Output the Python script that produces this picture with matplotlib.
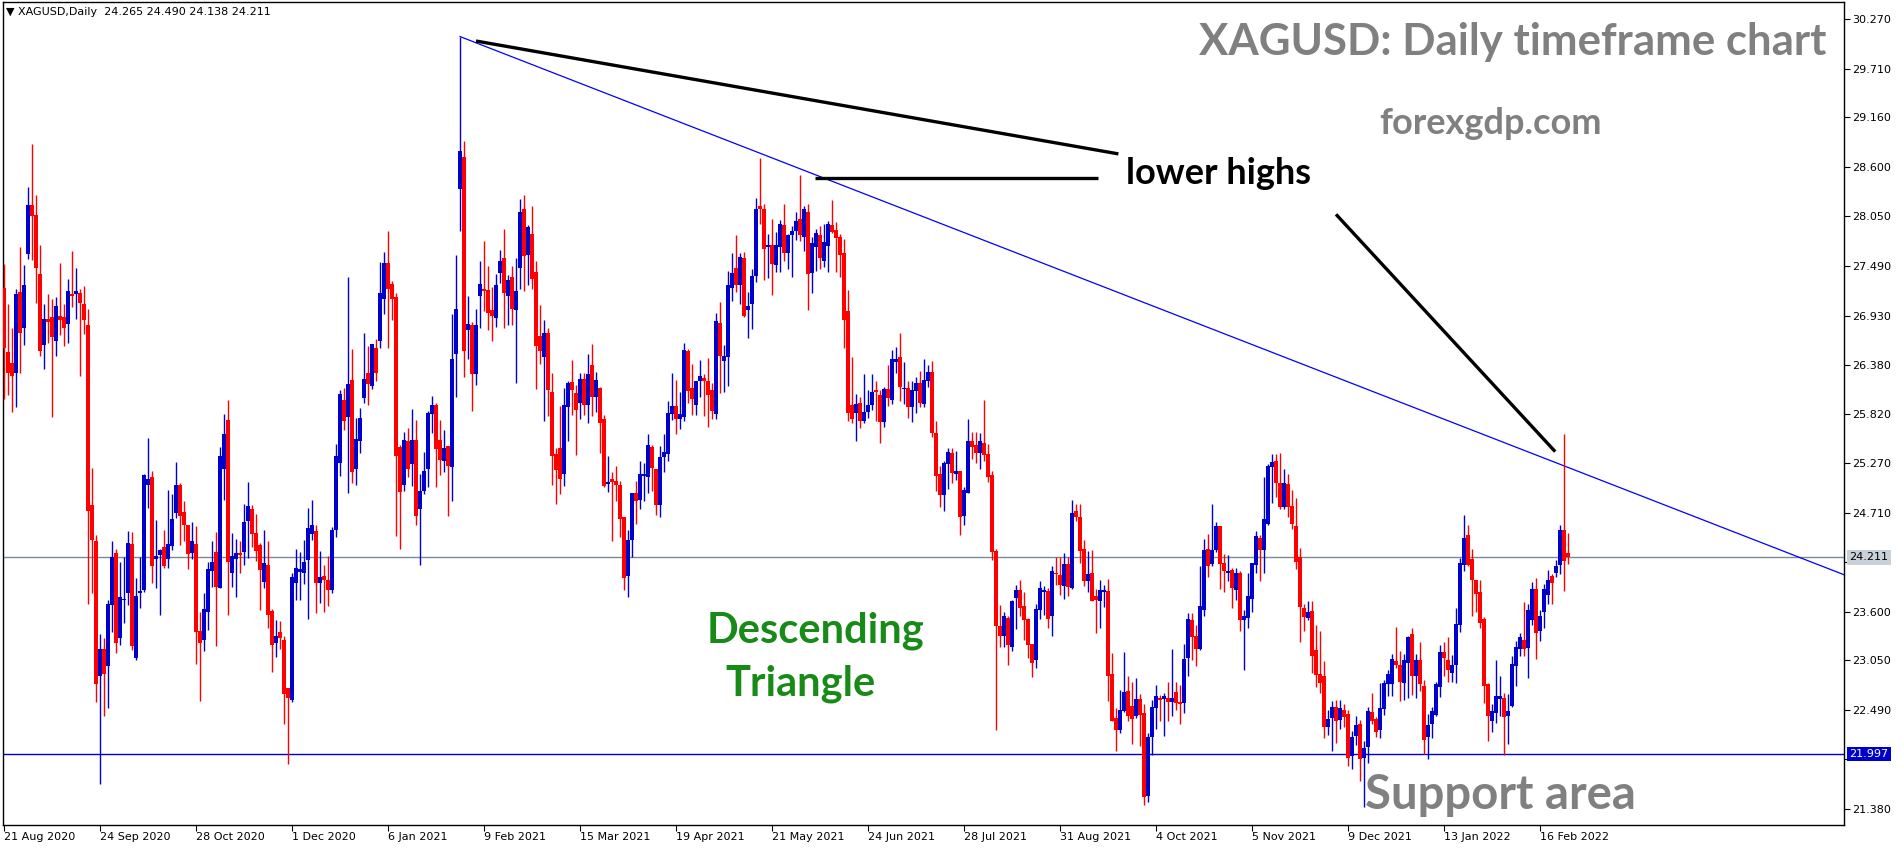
import matplotlib
matplotlib.use("Agg")
import matplotlib.pyplot as plt
import numpy as np

# daily XAGUSD candles, 21 Aug 2020 .. 25 Feb 2022
opens = [
    27.24, 26.52, 26.40, 26.29, 27.20, 26.79, 27.62, 28.17, 28.06, 27.40, 26.60, 26.89, 26.91, 26.64, 26.93, 26.91,
    26.84, 27.17, 27.17, 27.19, 27.06, 26.82, 24.80, 24.39, 22.87, 23.18, 22.99, 23.67, 24.26, 23.30, 23.73, 23.81,
    24.36, 23.08, 23.81, 23.84, 25.03, 25.12, 24.19, 24.24, 24.33, 24.19, 24.34, 24.71, 25.03, 24.72, 24.57, 24.26,
    24.36, 23.38, 23.28, 23.60, 24.06, 24.27, 23.87, 25.21, 25.76, 24.03, 24.19, 24.26, 24.27, 24.62, 24.76, 24.49,
    24.35, 23.93, 24.12, 23.61, 23.25, 23.37, 23.28, 22.74, 22.61, 23.92, 24.05, 24.04, 24.18, 24.47, 24.51, 23.92,
    24.00, 23.95, 23.84, 24.52, 25.27, 25.98, 25.79, 26.21, 25.20, 25.52, 26.00, 26.28, 26.14, 26.57, 26.65, 27.12,
    27.52, 27.29, 27.14, 25.45, 25.03, 25.52, 25.26, 25.53, 24.75, 24.96, 25.20, 25.82, 25.92, 25.53, 25.30, 25.46,
    25.23, 26.50, 28.36, 28.72, 26.77, 26.83, 26.27, 27.15, 27.23, 27.22, 26.99, 26.90, 27.41, 27.58, 27.15, 27.36,
    26.99, 27.47, 28.13, 27.61, 27.85, 27.42, 26.70, 26.47, 26.73, 26.07, 25.37, 25.44, 25.15, 25.90, 26.18, 26.06,
    25.95, 26.22, 25.92, 26.37, 26.02, 26.12, 25.77, 25.04, 25.09, 25.07, 25.02, 24.66, 24.00, 24.41, 24.94, 24.86,
    25.13, 25.12, 25.45, 25.20, 24.80, 25.34, 25.37, 25.82, 25.91, 25.77, 25.79, 26.53, 26.12, 25.93, 26.19, 26.23,
    26.20, 26.09, 25.82, 26.85, 26.42, 26.47, 27.24, 27.47, 27.27, 27.58, 26.99, 27.06, 27.38, 28.16, 28.13, 27.70,
    27.72, 27.50, 27.70, 27.95, 27.64, 27.84, 27.88, 28.02, 27.82, 28.10, 27.41, 27.70, 27.84, 27.55, 27.71, 27.95,
    27.89, 27.82, 27.63, 26.98, 25.93, 25.84, 25.95, 25.75, 25.85, 25.93, 26.09, 26.04, 25.73, 26.10, 25.98, 26.41,
    26.46, 26.10, 26.12, 25.90, 26.08, 26.17, 25.94, 26.20, 26.30, 25.61, 25.15, 24.91, 25.26, 25.39, 25.15, 25.18,
    24.68, 24.94, 25.52, 25.47, 25.38, 25.50, 25.37, 25.14, 24.28, 23.44, 23.33, 23.53, 23.20, 23.75, 23.84, 23.66,
    23.52, 23.23, 23.06, 23.62, 23.82, 23.83, 23.55, 24.04, 24.01, 23.89, 24.14, 23.87, 24.73, 24.67, 24.30, 23.94,
    24.04, 23.77, 23.72, 23.82, 23.83, 22.90, 22.40, 22.27, 22.48, 22.71, 22.54, 22.43, 22.62, 22.46, 21.52, 22.19,
    22.51, 22.63, 22.62, 22.63, 22.58, 22.70, 22.58, 22.57, 23.08, 23.51, 23.33, 23.18, 23.62, 24.31, 24.14, 24.29,
    24.56, 24.15, 24.04, 24.07, 23.84, 24.04, 23.51, 23.53, 23.74, 24.12, 24.43, 24.29, 24.59, 25.23, 25.30, 25.05,
    24.78, 25.04, 24.79, 24.56, 24.21, 23.64, 23.53, 23.61, 23.17, 22.90, 22.87, 22.30, 22.40, 22.53, 22.38, 22.49,
    22.45, 21.97, 22.20, 22.34, 21.95, 22.08, 22.47, 22.39, 22.27, 22.50, 22.79, 22.79, 23.04, 23.00, 22.80, 23.02,
    23.35, 22.88, 23.05, 22.76, 22.19, 22.34, 22.44, 22.75, 23.15, 23.06, 22.91, 23.00, 23.45, 24.13, 24.46, 24.19,
    23.95, 23.82, 23.52, 22.78, 22.37, 22.46, 22.62, 22.63, 22.42, 22.54, 22.99, 23.18, 23.28, 23.19, 23.51, 23.85,
    23.38, 23.60, 23.79, 24.00, 24.03, 24.12, 24.52, 24.265,
]
highs = [
    27.51, 27.06, 26.79, 27.23, 27.70, 27.50, 28.38, 28.86, 28.29, 27.72, 27.06, 27.17, 27.12, 27.14, 27.52, 27.06,
    27.34, 27.66, 27.47, 27.23, 27.26, 27.01, 25.22, 24.46, 23.35, 23.30, 23.73, 24.39, 24.31, 24.16, 24.21, 24.51,
    24.50, 23.98, 24.22, 25.15, 25.55, 25.18, 24.63, 24.31, 24.52, 24.97, 24.92, 25.28, 25.05, 24.85, 24.58, 24.61,
    24.56, 23.59, 23.81, 24.16, 24.39, 24.50, 25.45, 25.82, 25.98, 24.48, 24.42, 24.39, 24.81, 25.06, 24.80, 24.70,
    24.37, 24.52, 24.39, 23.63, 23.51, 23.49, 23.33, 22.74, 24.04, 24.31, 24.27, 24.41, 24.77, 24.86, 24.57, 24.28,
    24.12, 24.23, 24.55, 25.49, 26.09, 26.12, 27.37, 26.55, 25.78, 25.89, 26.74, 26.59, 26.61, 26.67, 27.53, 27.65,
    27.88, 27.32, 27.18, 25.47, 25.62, 25.67, 25.88, 25.76, 25.15, 25.40, 25.86, 26.03, 25.95, 25.76, 25.64, 25.46,
    26.95, 27.61, 30.07, 28.90, 27.15, 26.86, 27.00, 27.54, 27.77, 27.49, 27.25, 27.40, 27.67, 27.91, 27.39, 27.49,
    27.58, 28.24, 28.29, 27.95, 28.16, 27.55, 27.05, 26.88, 26.79, 26.28, 25.44, 25.91, 26.12, 26.20, 26.43, 26.15,
    26.29, 26.29, 26.50, 26.61, 26.30, 26.13, 25.81, 25.35, 25.17, 25.24, 25.07, 24.67, 24.52, 24.94, 25.07, 25.29,
    25.27, 25.60, 25.47, 25.21, 25.46, 25.60, 25.97, 26.29, 26.21, 26.07, 26.62, 26.55, 26.39, 26.20, 26.43, 26.27,
    26.45, 26.17, 26.96, 27.08, 26.60, 27.43, 27.63, 27.84, 27.63, 27.65, 27.20, 27.45, 28.25, 28.70, 28.19, 27.85,
    28.02, 27.87, 28.01, 28.19, 27.85, 27.94, 28.10, 28.51, 28.16, 28.19, 27.81, 27.91, 27.94, 27.96, 27.99, 28.23,
    27.98, 27.85, 27.79, 27.22, 26.47, 26.05, 26.02, 26.27, 26.09, 26.27, 26.20, 26.09, 26.13, 26.37, 26.54, 26.58,
    26.74, 26.41, 26.19, 26.19, 26.24, 26.31, 26.44, 26.37, 26.42, 25.74, 25.24, 25.29, 25.44, 25.44, 25.41, 25.18,
    25.00, 25.77, 25.62, 25.62, 25.61, 25.98, 25.49, 25.18, 24.30, 23.67, 23.59, 23.55, 23.73, 23.90, 23.96, 23.82,
    23.53, 23.24, 23.68, 23.94, 23.89, 23.86, 24.11, 24.22, 24.21, 24.26, 24.22, 24.86, 24.81, 24.81, 24.41, 24.28,
    24.29, 23.85, 23.96, 23.90, 23.97, 23.13, 22.51, 22.72, 23.14, 22.88, 22.81, 22.85, 22.67, 22.56, 22.23, 22.60,
    22.77, 22.66, 22.68, 22.81, 23.18, 22.81, 22.77, 23.24, 23.58, 23.58, 23.45, 24.11, 24.42, 24.47, 24.81, 24.61,
    24.56, 24.25, 24.24, 24.09, 24.09, 24.06, 23.62, 24.03, 24.15, 24.51, 24.46, 25.12, 25.26, 25.37, 25.37, 25.39,
    25.20, 25.15, 24.97, 24.88, 24.32, 23.68, 23.72, 23.72, 23.45, 23.38, 23.04, 22.49, 22.59, 22.61, 22.60, 22.56,
    22.49, 22.26, 22.42, 22.38, 22.14, 22.53, 22.68, 22.41, 22.80, 22.83, 22.94, 23.12, 23.43, 23.16, 23.12, 23.33,
    23.41, 23.12, 23.26, 22.83, 22.45, 22.53, 22.81, 23.22, 23.26, 23.31, 23.11, 23.64, 24.20, 24.69, 24.57, 24.30,
    23.96, 23.96, 23.54, 22.80, 22.56, 23.05, 22.87, 22.68, 22.67, 23.10, 23.27, 23.36, 23.71, 23.69, 23.93, 23.98,
    23.62, 23.91, 24.07, 24.02, 24.18, 24.58, 25.60, 24.490,
]
lows = [
    25.99, 26.04, 25.85, 25.90, 26.29, 26.60, 27.57, 27.56, 27.07, 26.48, 26.33, 26.62, 25.79, 26.48, 26.71, 26.59,
    26.62, 27.03, 26.89, 26.25, 26.72, 23.68, 23.81, 22.58, 21.66, 22.43, 22.51, 23.37, 23.13, 23.22, 23.47, 23.67,
    23.17, 23.05, 23.64, 23.82, 24.77, 23.92, 23.86, 23.56, 24.09, 24.09, 24.29, 24.65, 24.35, 24.39, 24.08, 24.19,
    23.01, 22.59, 23.16, 23.39, 23.88, 23.21, 23.86, 24.86, 23.56, 23.88, 23.76, 24.03, 24.12, 24.20, 24.33, 24.17,
    23.62, 23.87, 23.42, 22.92, 23.09, 23.18, 22.34, 21.88, 22.58, 23.73, 23.73, 23.91, 23.52, 24.41, 23.58, 23.70,
    23.59, 23.66, 23.81, 24.44, 25.13, 25.64, 24.93, 25.05, 25.03, 25.39, 25.95, 25.92, 26.10, 26.19, 26.57, 26.95,
    26.57, 26.88, 24.45, 24.31, 24.96, 25.11, 25.01, 24.57, 24.13, 24.92, 25.00, 25.61, 25.00, 25.14, 25.17, 24.68,
    24.84, 26.02, 27.88, 26.24, 26.44, 25.86, 26.15, 26.79, 26.98, 26.77, 26.65, 26.80, 27.30, 26.79, 26.82, 26.83,
    26.17, 27.23, 27.21, 27.27, 27.23, 26.10, 26.39, 25.74, 25.80, 25.02, 24.81, 24.92, 25.01, 25.52, 25.81, 25.36,
    25.77, 25.81, 25.72, 25.80, 25.85, 25.39, 25.00, 24.95, 24.39, 24.85, 24.44, 23.84, 23.76, 24.22, 24.59, 24.75,
    24.84, 24.94, 24.96, 24.69, 24.66, 25.17, 25.30, 25.76, 25.60, 25.65, 25.74, 25.95, 25.81, 25.81, 26.02, 25.80,
    25.68, 25.77, 25.77, 26.06, 26.07, 26.14, 27.10, 27.20, 27.06, 26.91, 26.68, 26.78, 27.31, 27.96, 27.33, 27.35,
    27.16, 27.42, 27.42, 27.55, 27.45, 27.36, 27.78, 27.77, 27.66, 26.99, 27.19, 27.43, 27.46, 27.48, 27.42, 27.86,
    27.42, 27.36, 26.57, 25.75, 25.72, 25.52, 25.67, 25.72, 25.78, 25.87, 25.75, 25.50, 25.68, 25.91, 25.94, 26.29,
    25.97, 25.94, 25.78, 25.73, 25.83, 25.90, 25.90, 26.13, 25.57, 24.96, 24.78, 24.73, 24.98, 25.05, 25.08, 24.46,
    24.58, 24.94, 25.32, 25.27, 25.21, 25.30, 25.06, 24.18, 22.27, 23.20, 23.20, 23.00, 23.16, 23.40, 23.55, 23.28,
    23.08, 22.86, 22.97, 23.52, 23.56, 23.42, 23.33, 23.90, 23.79, 23.74, 23.78, 23.85, 24.62, 24.15, 23.89, 23.82,
    23.72, 23.36, 23.41, 23.65, 22.59, 22.37, 22.03, 22.23, 22.47, 22.37, 22.11, 22.40, 22.09, 21.42, 21.46, 21.99,
    22.28, 22.37, 22.20, 22.37, 22.42, 22.49, 22.33, 22.46, 22.88, 23.06, 22.99, 23.17, 23.55, 23.99, 24.11, 24.27,
    23.85, 23.82, 23.94, 23.64, 23.73, 23.38, 22.94, 23.42, 23.59, 24.03, 23.94, 24.04, 24.57, 24.82, 24.89, 24.75,
    24.76, 24.66, 24.53, 24.08, 23.26, 23.38, 23.51, 22.91, 22.75, 22.68, 22.18, 22.21, 22.03, 22.12, 22.28, 22.30,
    21.86, 21.83, 22.10, 21.69, 21.40, 21.90, 22.34, 22.19, 22.18, 22.44, 22.65, 22.65, 22.96, 22.59, 22.60, 22.63,
    22.66, 22.63, 22.71, 22.00, 21.94, 22.18, 22.43, 22.64, 22.87, 22.81, 22.81, 22.80, 23.37, 24.06, 24.11, 23.55,
    23.59, 23.42, 22.57, 22.14, 22.24, 22.35, 22.42, 21.99, 22.11, 22.53, 22.76, 23.10, 23.10, 22.85, 23.45, 23.07,
    23.27, 23.41, 23.68, 23.68, 23.99, 24.02, 23.83, 24.138,
]
closes = [
    26.57, 26.29, 26.25, 27.17, 26.74, 27.28, 28.17, 28.05, 27.47, 26.53, 26.89, 26.86, 26.69, 27.04, 26.88, 26.79,
    27.21, 27.15, 27.21, 27.07, 26.88, 24.73, 24.41, 22.78, 23.18, 22.90, 23.69, 24.21, 23.25, 23.76, 23.74, 24.37,
    23.21, 23.78, 23.83, 25.14, 25.09, 24.11, 24.23, 24.29, 24.11, 24.36, 24.64, 25.03, 24.68, 24.58, 24.25, 24.39,
    23.37, 23.25, 23.63, 24.08, 24.16, 23.88, 25.35, 25.60, 24.16, 24.23, 24.26, 24.24, 24.61, 24.79, 24.47, 24.28,
    24.07, 24.15, 23.56, 23.22, 23.33, 23.30, 22.67, 22.63, 23.99, 24.09, 24.08, 24.16, 24.54, 24.57, 23.92, 23.99,
    23.95, 23.84, 24.52, 25.35, 26.05, 25.75, 26.16, 25.17, 25.54, 25.78, 26.22, 26.16, 26.61, 26.28, 27.19, 27.52,
    27.23, 27.12, 25.35, 24.95, 25.53, 25.20, 25.53, 24.68, 24.96, 25.18, 25.83, 25.93, 25.43, 25.31, 25.44, 25.24,
    26.44, 27.00, 28.78, 26.53, 26.84, 26.27, 26.83, 27.29, 27.21, 26.96, 26.93, 27.28, 27.54, 27.18, 27.33, 27.01,
    27.21, 28.10, 27.60, 27.93, 27.34, 26.59, 26.53, 26.74, 26.09, 25.35, 25.19, 25.09, 25.92, 26.17, 26.09, 25.87,
    26.22, 25.92, 26.27, 26.01, 26.21, 25.72, 25.01, 25.06, 25.06, 25.02, 24.64, 23.98, 24.41, 24.94, 24.85, 25.15,
    25.15, 25.47, 25.22, 24.80, 25.34, 25.40, 25.83, 25.91, 25.77, 25.82, 26.54, 26.08, 25.99, 26.19, 26.25, 26.19,
    26.04, 25.86, 26.87, 26.48, 26.48, 27.28, 27.41, 27.27, 27.59, 26.93, 27.04, 27.38, 28.13, 28.13, 27.68, 27.73,
    27.51, 27.73, 27.96, 27.64, 27.84, 27.88, 27.99, 27.84, 28.13, 27.40, 27.75, 27.86, 27.58, 27.76, 27.96, 27.87,
    27.80, 27.61, 26.88, 25.84, 25.77, 25.94, 25.74, 25.85, 25.93, 26.07, 26.07, 25.73, 26.10, 26.00, 26.44, 26.44,
    26.13, 26.12, 25.90, 26.09, 26.17, 25.95, 26.21, 26.30, 25.61, 25.13, 24.91, 25.27, 25.40, 25.16, 25.18, 24.67,
    24.97, 25.52, 25.45, 25.38, 25.52, 25.36, 25.12, 24.27, 23.44, 23.32, 23.55, 23.22, 23.72, 23.84, 23.64, 23.50,
    23.22, 23.02, 23.63, 23.87, 23.84, 23.52, 24.06, 24.02, 23.90, 24.14, 23.88, 24.71, 24.67, 24.28, 23.94, 24.02,
    23.72, 23.73, 23.84, 23.84, 22.88, 22.37, 22.27, 22.49, 22.70, 22.43, 22.39, 22.62, 22.44, 21.51, 22.19, 22.53,
    22.65, 22.60, 22.65, 22.58, 22.63, 22.57, 22.56, 23.07, 23.52, 23.31, 23.18, 23.66, 24.29, 24.11, 24.29, 24.56,
    24.14, 24.06, 24.06, 23.86, 24.04, 23.50, 23.55, 23.77, 24.15, 24.45, 24.29, 24.64, 25.24, 25.28, 25.05, 24.78,
    25.05, 24.78, 24.59, 24.16, 23.65, 23.54, 23.59, 23.10, 22.89, 22.80, 22.30, 22.39, 22.53, 22.37, 22.51, 22.41,
    21.95, 22.19, 22.32, 21.94, 22.07, 22.48, 22.37, 22.25, 22.51, 22.80, 22.90, 23.07, 23.00, 22.81, 23.05, 23.31,
    22.87, 23.05, 22.79, 22.16, 22.32, 22.48, 22.78, 23.15, 23.08, 22.94, 23.00, 23.46, 24.15, 24.43, 24.13, 23.96,
    23.80, 23.47, 22.76, 22.43, 22.48, 22.65, 22.65, 22.41, 22.48, 23.01, 23.20, 23.31, 23.18, 23.62, 23.85, 23.36,
    23.55, 23.85, 23.96, 23.92, 24.11, 24.52, 24.17, 24.211,
]

date_labels = ["21 Aug 2020", "24 Sep 2020", "28 Oct 2020", "1 Dec 2020", "6 Jan 2021", "9 Feb 2021",
               "15 Mar 2021", "19 Apr 2021", "21 May 2021", "24 Jun 2021", "28 Jul 2021", "31 Aug 2021",
               "4 Oct 2021", "5 Nov 2021", "9 Dec 2021", "13 Jan 2022", "16 Feb 2022"]
bars_per_label = 24
price_labels = [30.270, 29.710, 29.160, 28.600, 28.050, 27.490, 26.930, 26.380, 25.820, 25.270,
                24.710, 24.160, 23.600, 23.050, 22.490, 21.940, 21.380]
# these two grid labels sit under the price boxes and are not visible
hidden_labels = [24.160, 21.940]

bid_price = 24.211
support_price = 21.997
# descending trend line through the Feb 2021 high and the Feb 2022 spike (bar index, price)
trend_pts = [(114, 30.07), (390, 25.24)]
# black arrows/lines drawn on the chart (bar index, price)
note_lines = [
    [(118, 30.02), (278.6, 28.75)],
    [(202.8, 28.48), (273.4, 28.48)],
    [(333, 28.07), (387.8, 25.40)],
]

W, H = 1902, 850
fig = plt.figure(figsize=(W / 100, H / 100), dpi=100)
ax = fig.add_axes([2.7 / W, 25 / H, (1844 - 2.7) / W, (824 - 1) / H])

o = np.array(opens)
h = np.array(highs)
l = np.array(lows)
c = np.array(closes)
x = np.arange(len(o))
up = c >= o
cols = np.where(up, "#0000cd", "#ff0000")

ax.axhline(bid_price, color="#7b8a97", lw=1.0, zorder=1)
ax.axhline(support_price, color="#0000cd", lw=1.0, zorder=1)

ax.vlines(x, l, h, colors=cols, lw=1.0, zorder=3)
body_lo = np.minimum(o, c)
body_h = np.maximum(np.abs(c - o), 0.014)
ax.bar(x, body_h, bottom=body_lo, width=0.82, color=cols, linewidth=0, zorder=4)

# trend line extended to the right edge
(x0, y0), (x1, y1) = trend_pts
slope = (y1 - y0) / (x1 - x0)
xr = 470
ax.plot([x0, xr], [y0, y0 + slope * (xr - x0)], color="#0000ff", lw=0.9, zorder=2)

for seg in note_lines:
    xs, ys = zip(*seg)
    ax.plot(xs, ys, color="black", lw=2.4, solid_capstyle="butt", zorder=5)

ax.set_xlim(-0.33, 460)
ax.set_ylim(21.199, 30.459)

for s in ax.spines.values():
    s.set_color("black")
    s.set_linewidth(1.0)

ax.yaxis.tick_right()
ax.set_yticks(price_labels)
ax.set_yticklabels(["" if p in hidden_labels else f"{p:.3f}" for p in price_labels],
                   fontsize=8, family="DejaVu Sans")
ax.tick_params(axis="y", direction="out", length=4, width=0.8, pad=2)

ax.set_xticks(np.arange(len(date_labels)) * bars_per_label)
ax.set_xticklabels(date_labels, fontsize=8, ha="left", family="DejaVu Sans")
ax.tick_params(axis="x", direction="out", length=4, width=0.8, pad=1)

# price boxes on the right axis
ax.text(1.003, bid_price, f"{bid_price:.3f}", transform=ax.get_yaxis_transform(), fontsize=8,
        va="center", ha="left", color="black",
        bbox=dict(boxstyle="square,pad=0.2", fc="#c8d0d8", ec="none"), zorder=6, clip_on=False)
ax.text(1.003, support_price, f"{support_price:.3f}", transform=ax.get_yaxis_transform(), fontsize=8,
        va="center", ha="left", color="white",
        bbox=dict(boxstyle="square,pad=0.2", fc="#0000cd", ec="none"), zorder=6, clip_on=False)

# header line
fig.text(6 / W, 1 - 12 / H,
         "\u25bc XAGUSD,Daily  " + " ".join(f"{v:.3f}" for v in (opens[-1], highs[-1], lows[-1], closes[-1])),
         fontsize=8, va="center", ha="left", family="DejaVu Sans")

big = dict(family="Lato", weight="bold")
fig.text(1826 / W, 1 - 42 / H, "XAGUSD: Daily timeframe chart", color="#808080", fontsize=31.5,
         ha="right", va="center", **big)
fig.text(1490 / W, 1 - 124 / H, "forexgdp.com", color="#808080", fontsize=26, ha="center", va="center", **big)
fig.text(1126 / W, 1 - 174 / H, "lower highs", color="black", fontsize=26, ha="left", va="center", **big)
fig.text(816 / W, 1 - 631 / H, "Descending", color="#178a17", fontsize=30, ha="center", va="center", **big)
fig.text(801 / W, 1 - 684 / H, "Triangle", color="#178a17", fontsize=30, ha="center", va="center", **big)
fig.text(1500 / W, 1 - 795 / H, "Support area", color="#808080", fontsize=34, ha="center", va="center", **big)

fig.savefig("out.png", dpi=100)
